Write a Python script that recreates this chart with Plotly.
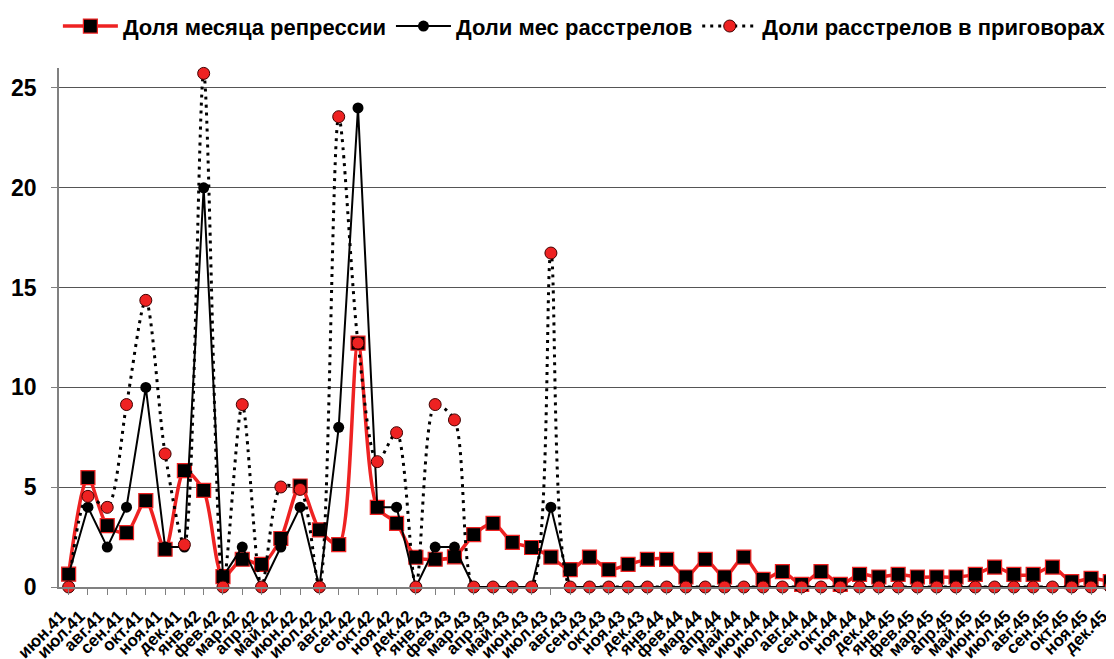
import plotly.graph_objects as go

tick_labels = [
    "июн.41", "июл.41", "авг.41", "сен.41", "окт.41", "ноя.41", "дек.41",
    "янв.42", "фев.42", "мар.42", "апр.42", "май.42", "июн.42", "июл.42", "авг.42", "сен.42", "окт.42", "ноя.42", "дек.42",
    "янв.43", "фев.43", "мар.43", "апр.43", "май.43", "июн.43", "июл.43", "авг.43", "сен.43", "окт.43", "ноя.43", "дек.43",
    "янв.44", "фев.44", "мар.44", "апр.44", "май.44", "июн.44", "июл.44", "авг.44", "сен.44", "окт.44", "ноя.44", "дек.44",
    "янв.45", "фев.45", "мар.45", "апр.45", "май.45", "июн.45", "июл.45", "авг.45", "сен.45", "окт.45", "ноя.45", "дек.45",
]

share_repression = [
    0.64, 5.48, 3.07, 2.72, 4.33, 1.89, 5.83,
    4.84, 0.52, 1.39, 1.13, 2.43, 5.06, 2.86, 2.12, 12.22, 3.99, 3.19, 1.49,
    1.39, 1.51, 2.62, 3.19, 2.24, 1.98, 1.50, 0.87, 1.50, 0.87, 1.13, 1.38,
    1.38, 0.50, 1.38, 0.50, 1.50, 0.38, 0.77, 0.13, 0.77, 0.13, 0.63, 0.50,
    0.63, 0.50, 0.50, 0.50, 0.63, 1.00, 0.63, 0.63, 1.00, 0.27, 0.43, 0.27,
]
share_executions_month = [
    0.64, 4, 2, 4, 10, 2, 2,
    20, 0.52, 2, 0, 2, 4, 0, 8, 24, 4, 4, 0,
    2, 2, 0, 0, 0, 0, 4, 0, 0, 0, 0, 0,
    0, 0, 0, 0, 0, 0, 0, 0, 0, 0, 0, 0,
    0, 0, 0, 0, 0, 0, 0, 0, 0, 0, 0, 0,
]
share_executions_sentences = [
    0, 4.54, 3.99, 9.14, 14.36, 6.67, 2.12,
    25.73, 0, 9.14, 0, 5.01, 4.89, 0, 23.56, 12.22, 6.28, 7.73, 0,
    9.14, 8.37, 0, 0, 0, 0, 16.73, 0, 0, 0, 0, 0,
    0, 0, 0, 0, 0, 0, 0, 0, 0, 0, 0, 0,
    0, 0, 0, 0, 0, 0, 0, 0, 0, 0, 0, 0,
]

x = list(range(len(tick_labels)))
FONT = "Liberation Sans, Arial, sans-serif"

fig = go.Figure()
fig.add_trace(go.Scatter(
    x=x, y=share_repression, name="Доля месяца репрессии",
    mode="lines+markers", line=dict(color="#ee2222", width=3.5, shape="spline", smoothing=0.8),
    marker=dict(symbol="square", size=14, color="black", line=dict(color="#ee2222", width=1.2)),
    cliponaxis=False,
))
fig.add_trace(go.Scatter(
    x=x, y=share_executions_month, name="Доли мес расстрелов",
    mode="lines+markers", line=dict(color="black", width=2),
    marker=dict(symbol="circle", size=11, color="black"),
    cliponaxis=False,
))
fig.add_trace(go.Scatter(
    x=x, y=share_executions_sentences, name="Доли расстрелов в приговорах",
    mode="lines+markers", line=dict(color="black", width=3, dash="3px,5px", shape="spline", smoothing=0.8),
    marker=dict(symbol="circle", size=12, color="#ee2222", line=dict(color="#400000", width=1)),
    cliponaxis=False,
))

# the page adds an 8px body margin, so the figure is 8px smaller on each side
fig.update_layout(
    template="none",
    width=1106, height=651,
    paper_bgcolor="white", plot_bgcolor="white",
    margin=dict(l=51, r=0, t=60, b=72),
    font=dict(family=FONT, color="black"),
    showlegend=True,
    legend=dict(
        orientation="h", x=0.498, xanchor="center",
        yref="container", y=0.972, yanchor="middle",
        font=dict(size=22, family=FONT, weight="bold"),
        traceorder="normal", itemwidth=55,
    ),
    xaxis=dict(
        tickmode="array", tickvals=x, ticktext=tick_labels, tickangle=-45,
        range=[-0.5, 54.19], showgrid=False, zeroline=False,
        showline=True, linecolor="#808080", linewidth=1.5,
        ticks="outside", tickson="boundaries", ticklen=6, tickcolor="#808080",
        tickfont=dict(size=17, weight="bold", family=FONT),
        ticklabelstandoff=5, ticklabelshift=-8, ticklabeloverflow="allow",
        automargin=False,
    ),
    yaxis=dict(
        range=[0, 26], tickvals=[0, 5, 10, 15, 20, 25],
        showgrid=True, gridcolor="#555555", gridwidth=1, zeroline=False,
        showline=True, linecolor="#808080", linewidth=1.5,
        ticks="outside", ticklen=6, tickcolor="#808080",
        tickfont=dict(size=23, weight="bold", family=FONT),
        ticklabelstandoff=10,
        automargin=False,
    ),
)

fig.write_html("out.html")
